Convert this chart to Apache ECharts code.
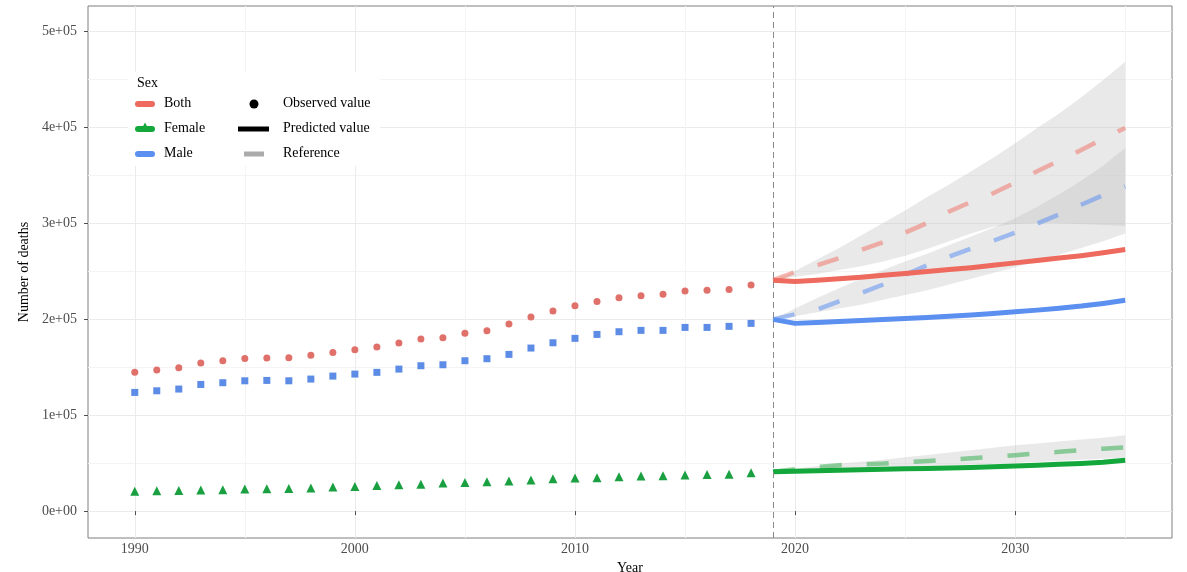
<!DOCTYPE html>
<html>
<head>
<meta charset="utf-8">
<script src="https://cdn.jsdelivr.net/npm/echarts@6/dist/echarts.min.js"></script>
<style>
html,body{margin:0;padding:0;background:#fff;}
#chart{width:1187px;height:572px;}
</style>
</head>
<body>
<div id="chart"></div>
<script>
// ---------- data ----------
const obsYears = [1990,1991,1992,1993,1994,1995,1996,1997,1998,1999,2000,2001,2002,2003,2004,2005,2006,2007,2008,2009,2010,2011,2012,2013,2014,2015,2016,2017,2018];
const bothObs = [144500,146900,149300,154200,156600,159000,159400,159700,162200,165300,168100,170800,175000,179200,180500,185100,187800,194800,202100,208300,213900,218400,222200,224300,225700,229200,229900,230900,235400];
const maleObs = [123600,125300,127100,131900,133700,135700,136100,135700,137500,140600,142700,144500,147900,151400,152400,156600,158700,163200,169800,175300,179900,184000,186800,188200,188200,191300,191300,192400,195500];
const femaleObs = [20800,21100,21500,21900,22200,22900,23200,23600,24000,25000,25700,26700,27400,28100,29200,29900,30600,31300,32300,33700,34400,34700,35800,36500,36800,37500,38200,38500,39900];

const predYears = [2019,2020,2021,2022,2023,2024,2025,2026,2027,2028,2029,2030,2031,2032,2033,2034,2035];
const bothPred = [240500,239000,240500,242000,243500,245500,247500,249500,251500,253500,256000,258500,261000,263500,266000,269000,272500];
const malePred = [199700,195500,196500,197500,198500,199500,200500,201700,203000,204300,205800,207500,209300,211300,213500,216300,219500];
const femalePred = [41000,41500,42000,42500,43000,43500,44000,44500,45000,45500,46200,47000,47800,48700,49700,51000,53000];

const bothRef = [240500,249000,256000,263500,272000,280000,290000,300000,312000,322000,331000,342000,354000,365000,376000,388000,399000];
const maleRef = [199700,205000,210000,218500,227000,236000,246000,256000,265000,273500,281500,290000,299500,309000,319000,329000,338000];
const femaleRef = [41000,43500,46000,47800,48700,49500,51000,52200,53500,55000,56500,58200,60000,61800,63500,65000,66500];

const bothLo = [240500,244000,247000,251000,255000,260000,266000,273000,281000,289000,296000,299000,300000,300000,299000,298000,297000];
const bothHi = [240500,250000,262000,274000,287000,300000,313000,327000,340000,354000,368000,383000,399000,414000,431000,449000,468000];
const maleLo = [199700,203000,207000,211000,215000,220000,225000,230000,236000,242000,248000,254000,260000,267000,274000,281000,289000];
const maleHi = [199700,211000,222000,232000,242000,251000,260000,268000,277000,286000,295000,305000,317000,330000,344000,360000,378000];
const femaleLo = [41000,42000,43000,43800,44500,45200,46000,46800,47500,48300,49200,50200,51200,52300,53400,54500,55500];
const femaleHi = [41000,44000,47000,49500,51500,53500,56000,58500,61000,63500,66000,68500,70500,72500,74500,76500,79000];

const cutoffYear = 2019;
const xTicks = [1990,2000,2010,2020,2030];
const yTicks = [0,100000,200000,300000,400000,500000];
const yTickLabels = ['0e+00','1e+05','2e+05','3e+05','4e+05','5e+05'];

// ---------- style ----------
const FONT = 'Liberation Serif';
const C = {
  both: '#EE6A5E', female: '#14A83C', male: '#5B8FF0',
  bothPt: '#E0706A', femalePt: '#1AA040', malePt: '#5C8CE6',
  bothRef: 'rgba(240,120,110,0.55)', femaleRef: 'rgba(40,170,70,0.5)', maleRef: 'rgba(95,145,240,0.55)',
  ribbon: 'rgba(190,190,190,0.34)'
};
const X_MIN = 1987.875, X_MAX = 2037.125, X_STEP = 0.125;
const Y_MIN = -28000, Y_MAX = 526000, Y_STEP = 2000;

// grid line colour cycles (major every 10 yrs / 1e5, minor halfway)
const MAJOR = '#EBEBEB', MINOR = '#F4F4F4', NONE = 'rgba(0,0,0,0)';
const xCycle = []; for (let i = 0; i < 80; i++) xCycle.push(i === 17 ? MAJOR : (i === 57 ? MINOR : NONE));
const yCycle = []; for (let i = 0; i < 50; i++) yCycle.push(i === 14 ? MAJOR : (i === 39 ? MINOR : NONE));

function pairs(xs, ys) { return xs.map((x, i) => [x, ys[i]]); }

function ribbon(lo, hi) {
  return {
    type: 'custom', xAxisIndex: 0, yAxisIndex: 0, silent: true, z: 1, clip: true,
    data: predYears.map((y, i) => [y, lo[i], hi[i]]),
    encode: { x: 0, y: [1, 2] },
    renderItem: function (params, api) {
      if (params.dataIndex !== 0) return;
      const pts = [];
      for (let i = 0; i < predYears.length; i++) pts.push(api.coord([predYears[i], hi[i]]));
      for (let i = predYears.length - 1; i >= 0; i--) pts.push(api.coord([predYears[i], lo[i]]));
      return { type: 'polygon', shape: { points: pts }, style: { fill: C.ribbon, stroke: null } };
    }
  };
}
function line(ys, color, dashed, z) {
  return {
    type: 'line', xAxisIndex: 0, yAxisIndex: 0, data: pairs(predYears, ys), showSymbol: false, symbol: 'none',
    silent: true, z: z, animation: false,
    lineStyle: { color: color, width: dashed ? 4.5 : 5, type: dashed ? [22, 25] : 'solid', cap: 'butt', join: 'round' }
  };
}
function points(ys, color, symbol, size) {
  return {
    type: 'scatter', xAxisIndex: 0, yAxisIndex: 0, data: pairs(obsYears, ys), symbol: symbol, symbolSize: size,
    itemStyle: { color: color, opacity: 1 }, silent: true, z: 6, animation: false
  };
}

const chart = echarts.init(document.getElementById('chart'), null, { renderer: 'canvas' });
const gridL = 88, gridR = 15, gridT = 6, gridB = 34;

const cutoffLine = line(femaleRef, C.femaleRef, true, 3);
cutoffLine.markLine = {
  silent: true, symbol: 'none', label: { show: false }, animation: false,
  lineStyle: { color: '#8A8A8A', type: [6, 4], width: 1 },
  data: [{ xAxis: cutoffYear }]
};

const LF = '14px "Liberation Serif"';
function txt(x, y, s) { return { type: 'text', left: x, top: y, z: 101, style: { text: s, font: LF, fill: '#000' } }; }

chart.setOption({
  animation: false,
  backgroundColor: '#fff',
  grid: { left: gridL, right: gridR, top: gridT, bottom: gridB, containLabel: false, outerBoundsMode: 'none',
    show: true, borderColor: '#7F7F7F', borderWidth: 1, backgroundColor: '#fff' },
  xAxis: [
    { type: 'value', position: 'bottom', min: X_MIN, max: X_MAX, interval: X_STEP,
      axisLine: { show: false }, axisTick: { show: false }, axisLabel: { show: false },
      splitLine: { show: true, lineStyle: { color: xCycle, width: 1 } } },
    { type: 'value', position: 'bottom', offset: 0, min: X_MIN, max: X_MAX,
      axisLine: { show: false },
      axisTick: { show: true, customValues: xTicks, length: 4, lineStyle: { color: '#4D4D4D' } },
      axisLabel: { show: true, customValues: xTicks, margin: 4, fontFamily: FONT, fontSize: 14, color: '#4D4D4D',
        formatter: function (v) { return String(v); } },
      splitLine: { show: false },
      name: 'Year', nameLocation: 'middle', nameGap: 18,
      nameTextStyle: { fontFamily: FONT, fontSize: 14, color: '#000' } }
  ],
  yAxis: [
    { type: 'value', position: 'left', min: Y_MIN, max: Y_MAX, interval: Y_STEP,
      axisLine: { show: false }, axisTick: { show: false }, axisLabel: { show: false },
      splitLine: { show: true, lineStyle: { color: yCycle, width: 1 } } },
    { type: 'value', position: 'left', offset: 0, min: Y_MIN, max: Y_MAX,
      axisLine: { show: false },
      axisTick: { show: true, customValues: yTicks, length: 4, lineStyle: { color: '#4D4D4D' } },
      axisLabel: { show: true, customValues: yTicks, margin: 11, fontFamily: FONT, fontSize: 14, color: '#4D4D4D',
        formatter: function (v) { const i = yTicks.indexOf(v); return i >= 0 ? yTickLabels[i] : ''; } },
      splitLine: { show: false },
      name: 'Number of deaths', nameLocation: 'middle', nameGap: 48, nameRotate: 90,
      nameTextStyle: { fontFamily: FONT, fontSize: 14, color: '#000' } }
  ],
  series: [
    ribbon(bothLo, bothHi),
    ribbon(maleLo, maleHi),
    ribbon(femaleLo, femaleHi),
    line(bothRef, C.bothRef, true, 3),
    line(maleRef, C.maleRef, true, 3),
    cutoffLine,
    line(bothPred, C.both, false, 4),
    line(malePred, C.male, false, 4),
    line(femalePred, C.female, false, 4),
    points(bothObs, C.bothPt, 'circle', 7),
    points(maleObs, C.malePt, 'rect', 7),
    points(femaleObs, C.femalePt, 'triangle', 9)
  ],
  graphic: [
    { type: 'rect', z: 100, shape: { x: 128, y: 72, width: 252, height: 94 }, style: { fill: '#fff' } },
    txt(137, 76, 'Sex'),
    { type: 'rect', z: 101, shape: { x: 135, y: 101, width: 20, height: 6, r: 3 }, style: { fill: C.both } },
    { type: 'rect', z: 101, shape: { x: 135, y: 126, width: 20, height: 6, r: 3 }, style: { fill: C.female } },
    { type: 'polygon', z: 101, shape: { points: [[140.5, 131], [149.5, 131], [145, 122.5]] }, style: { fill: C.female } },
    { type: 'rect', z: 101, shape: { x: 135, y: 151, width: 20, height: 6, r: 3 }, style: { fill: C.male } },
    txt(164, 96, 'Both'),
    txt(164, 121, 'Female'),
    txt(164, 146, 'Male'),
    { type: 'circle', z: 101, shape: { cx: 254, cy: 104, r: 4.5 }, style: { fill: '#000' } },
    { type: 'rect', z: 101, shape: { x: 238, y: 126.5, width: 31, height: 5 }, style: { fill: '#000' } },
    { type: 'rect', z: 101, shape: { x: 244, y: 151.5, width: 20, height: 5 }, style: { fill: '#ABABAB' } },
    txt(283, 96, 'Observed value'),
    txt(283, 121, 'Predicted value'),
    txt(283, 146, 'Reference')
  ]
});
</script>
</body>
</html>
